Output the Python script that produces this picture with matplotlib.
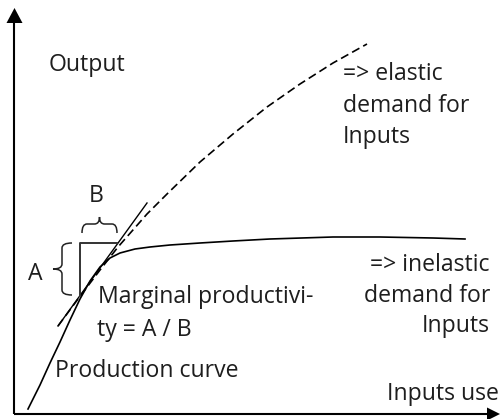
import matplotlib
matplotlib.use("Agg")
import matplotlib.pyplot as plt
from matplotlib.path import Path
from matplotlib.patches import PathPatch, Polygon

# ---- data (diagram units: x = input use, y = output) ----
prod_x = [14, 26, 36, 46, 56, 66, 76, 86, 96, 106, 121, 136, 156, 186, 219, 256, 319, 366, 419, 451]
prod_y = [5, 29, 51, 72, 94, 115, 133, 147, 156, 161, 165, 167, 169, 171, 173, 175, 177, 177, 176, 175]

elastic_x = [44, 64, 86, 104, 133, 153, 186, 219, 253, 286, 319, 353]
elastic_y = [88, 115, 144, 167, 200, 220, 252, 280, 307, 330, 351, 370]

tangent_x = [44, 133]
tangent_y = [88, 211]

tri_x = [66, 66, 103]
tri_y = [118, 171, 171]

labels_elastic = ["=> elastic", "demand for", "Inputs"]
labels_inelastic = ["=> inelastic", "demand for", "Inputs"]
labels_mp = ["Marginal productivi-", "ty = A / B"]

FONT = ["Open Sans", "DejaVu Sans"]
FS = 16.6
TC = "#1e1e1e"

fig = plt.figure(figsize=(5.03, 4.19), dpi=100)
ax = fig.add_axes([0, 0, 1, 1])
ax.set_xlim(-14, 489)
ax.set_ylim(-5, 414)
ax.axis("off")

# axes with arrows
ax.plot([0.5, 0.5], [0, 392], color="black", lw=1.5, solid_capstyle="butt")
ax.add_patch(Polygon([[-7.5, 391], [8.5, 391], [0.5, 406]], closed=True,
                     color="black", lw=0))
ax.plot([0, 474], [0, 0], color="black", lw=1.5, solid_capstyle="butt")
ax.add_patch(Polygon([[473, -6.5], [473, 6.5], [486, 0]], closed=True,
                     color="black", lw=0))

# curves
ax.plot(prod_x, prod_y, color="black", lw=1.2, solid_joinstyle="round")
ax.plot(elastic_x, elastic_y, color="black", lw=1.2, dashes=(5.0, 2.6))
ax.plot(tangent_x, tangent_y, color="black", lw=1.0)
ax.plot(tri_x, tri_y, color="#333333", lw=1.4)

# braces
def hbrace(x0, x1, yb, ym, yt, r=5):
    xc = (x0 + x1) / 2
    verts = [(x0, yb), (x0, ym), (x0 + r, ym), (xc - r, ym), (xc, ym), (xc, yt),
             (xc, ym), (xc + r, ym), (x1 - r, ym), (x1, ym), (x1, yb)]
    codes = [Path.MOVETO, Path.CURVE3, Path.CURVE3, Path.LINETO, Path.CURVE3, Path.CURVE3,
             Path.CURVE3, Path.CURVE3, Path.LINETO, Path.CURVE3, Path.CURVE3]
    return PathPatch(Path(verts, codes), fill=False, lw=1.1, color="#222222")

def vbrace(y0, y1, xb, xm, xt, r=5):
    yc = (y0 + y1) / 2
    verts = [(xb, y0), (xm, y0), (xm, y0 + r), (xm, yc - r), (xm, yc), (xt, yc),
             (xm, yc), (xm, yc + r), (xm, y1 - r), (xm, y1), (xb, y1)]
    codes = [Path.MOVETO, Path.CURVE3, Path.CURVE3, Path.LINETO, Path.CURVE3, Path.CURVE3,
             Path.CURVE3, Path.CURVE3, Path.LINETO, Path.CURVE3, Path.CURVE3]
    return PathPatch(Path(verts, codes), fill=False, lw=1.1, color="#222222")

ax.add_patch(hbrace(68, 103, 181, 190, 197))
ax.add_patch(vbrace(119, 171, 58, 48, 39))

def txt(x, y, s, ha="left"):
    ax.text(x, y, s, ha=ha, va="baseline", fontsize=FS, family=FONT, color=TC)

txt(35, 343, "Output")
for i, s in enumerate(labels_elastic):
    txt(329, 334 - 31.5 * i, s)
for i, s in enumerate(labels_inelastic):
    txt(476, 143 - 30.5 * i, s, ha="right")
txt(84, 111, labels_mp[0])
txt(83, 78, labels_mp[1])
txt(41, 37, "Production curve")
txt(373, 14, "Inputs use")
txt(82.5, 212, "B", ha="center")
txt(21, 134, "A", ha="center")

fig.savefig("out.png", dpi=100)
